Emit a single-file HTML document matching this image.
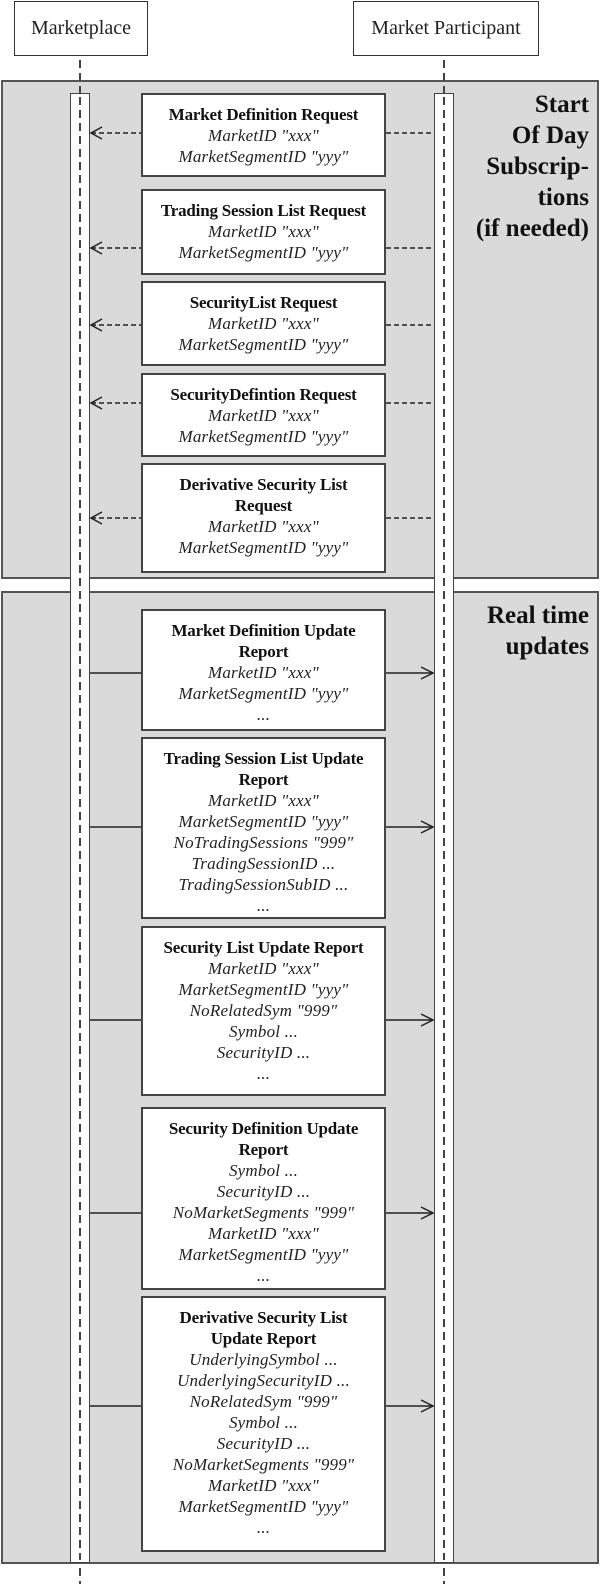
<!DOCTYPE html>
<html><head><meta charset="utf-8"><style>
body{margin:0;width:600px;height:1584px;background:#fff;position:relative;overflow:hidden;font-family:"Liberation Serif",serif;}
.a{position:absolute;box-sizing:border-box}
.hdr{border:1.5px solid #333;background:#fff;font-size:20px;text-align:center;line-height:52px;color:#222;white-space:nowrap}
.reg{background:#dadada;border:2px solid #555}
.box{background:#fff;border:2px solid #444;text-align:center;font-size:17px;line-height:21px;padding-top:9px;color:#222;white-space:nowrap}
.box b{font-size:17px;color:#111;letter-spacing:-0.2px}
.box i{display:block;letter-spacing:0.2px}
.lbl{font-weight:bold;font-size:25px;line-height:31px;text-align:right;color:#111}
.bar{background:#fff;border:1.5px solid #444}
</style></head><body>
<div class="a hdr" style="left:14px;top:1px;width:134px;height:55px">Marketplace</div>
<div class="a hdr" style="left:353px;top:1px;width:186px;height:55px">Market Participant</div>
<div class="a reg" style="left:1px;top:80px;width:598px;height:499px"></div>
<div class="a reg" style="left:1px;top:591px;width:598px;height:973px"></div>
<div class="a lbl" style="right:11px;top:89px;width:200px">Start<br>Of Day<br>Subscrip-<br>tions<br>(if needed)</div>
<div class="a lbl" style="right:11px;top:600px;width:200px">Real time<br>updates</div>
<div class="a bar" style="left:70px;top:93px;width:20px;height:1470px"></div>
<div class="a bar" style="left:434px;top:93px;width:20px;height:1470px"></div>
<svg class="a" style="left:0;top:0" width="600" height="1584">
<g stroke="#444" stroke-width="2" stroke-dasharray="8,5" fill="none">
<line x1="80" y1="60" x2="80" y2="93"/><line x1="444" y1="60" x2="444" y2="93"/>
<line x1="80" y1="97" x2="80" y2="1560"/><line x1="444" y1="97" x2="444" y2="1560"/>
<line x1="80" y1="1568" x2="80" y2="1584"/><line x1="444" y1="1568" x2="444" y2="1584"/>
</g>
<g stroke="#222" stroke-width="1.5" stroke-dasharray="5,3" fill="none">
<line x1="91" y1="133" x2="141" y2="133"/><line x1="386" y1="133" x2="434" y2="133"/>
<line x1="91" y1="248" x2="141" y2="248"/><line x1="386" y1="248" x2="434" y2="248"/>
<line x1="91" y1="325" x2="141" y2="325"/><line x1="386" y1="325" x2="434" y2="325"/>
<line x1="91" y1="403" x2="141" y2="403"/><line x1="386" y1="403" x2="434" y2="403"/>
<line x1="91" y1="518" x2="141" y2="518"/><line x1="386" y1="518" x2="434" y2="518"/>
</g>
<g stroke="#222" stroke-width="1.5" fill="none">
<path d="M102 127 L91 133 L102 139"/><path d="M102 242 L91 248 L102 254"/><path d="M102 319 L91 325 L102 331"/><path d="M102 397 L91 403 L102 409"/><path d="M102 512 L91 518 L102 524"/>
<line x1="90" y1="673" x2="141" y2="673"/><line x1="386" y1="673" x2="433" y2="673"/><path d="M421 667 L433 673 L421 679"/>
<line x1="90" y1="827" x2="141" y2="827"/><line x1="386" y1="827" x2="433" y2="827"/><path d="M421 821 L433 827 L421 833"/>
<line x1="90" y1="1020" x2="141" y2="1020"/><line x1="386" y1="1020" x2="433" y2="1020"/><path d="M421 1014 L433 1020 L421 1026"/>
<line x1="90" y1="1213" x2="141" y2="1213"/><line x1="386" y1="1213" x2="433" y2="1213"/><path d="M421 1207 L433 1213 L421 1219"/>
<line x1="90" y1="1406" x2="141" y2="1406"/><line x1="386" y1="1406" x2="433" y2="1406"/><path d="M421 1400 L433 1406 L421 1412"/>
</g>
</svg>
<div class="a box" style="left:141px;top:93px;width:245px;height:84px"><b>Market Definition Request</b><i>MarketID "xxx"</i><i>MarketSegmentID "yyy"</i></div>
<div class="a box" style="left:141px;top:189px;width:245px;height:86px"><b>Trading Session List Request</b><i>MarketID "xxx"</i><i>MarketSegmentID "yyy"</i></div>
<div class="a box" style="left:141px;top:281px;width:245px;height:85px"><b>SecurityList Request</b><i>MarketID "xxx"</i><i>MarketSegmentID "yyy"</i></div>
<div class="a box" style="left:141px;top:373px;width:245px;height:84px"><b>SecurityDefintion Request</b><i>MarketID "xxx"</i><i>MarketSegmentID "yyy"</i></div>
<div class="a box" style="left:141px;top:463px;width:245px;height:110px"><b>Derivative Security List<br>Request</b><i>MarketID "xxx"</i><i>MarketSegmentID "yyy"</i></div>
<div class="a box" style="left:141px;top:609px;width:245px;height:122px"><b>Market Definition Update<br>Report</b><i>MarketID "xxx"</i><i>MarketSegmentID "yyy"</i><i>...</i></div>
<div class="a box" style="left:141px;top:737px;width:245px;height:182px"><b>Trading Session List Update<br>Report</b><i>MarketID "xxx"</i><i>MarketSegmentID "yyy"</i><i>NoTradingSessions "999"</i><i>TradingSessionID ...</i><i>TradingSessionSubID ...</i><i>...</i></div>
<div class="a box" style="left:141px;top:926px;width:245px;height:170px"><b>Security List Update Report</b><i>MarketID "xxx"</i><i>MarketSegmentID "yyy"</i><i>NoRelatedSym "999"</i><i>Symbol ...</i><i>SecurityID ...</i><i>...</i></div>
<div class="a box" style="left:141px;top:1107px;width:245px;height:183px"><b>Security Definition Update<br>Report</b><i>Symbol ...</i><i>SecurityID ...</i><i>NoMarketSegments "999"</i><i>MarketID "xxx"</i><i>MarketSegmentID "yyy"</i><i>...</i></div>
<div class="a box" style="left:141px;top:1296px;width:245px;height:256px"><b>Derivative Security List<br>Update Report</b><i>UnderlyingSymbol ...</i><i>UnderlyingSecurityID ...</i><i>NoRelatedSym "999"</i><i>Symbol ...</i><i>SecurityID ...</i><i>NoMarketSegments "999"</i><i>MarketID "xxx"</i><i>MarketSegmentID "yyy"</i><i>...</i></div>
</body></html>
